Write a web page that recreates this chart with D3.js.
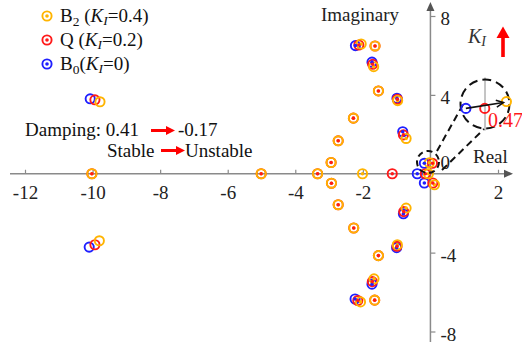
<!DOCTYPE html>
<html><head><meta charset="utf-8">
<script src="https://cdn.jsdelivr.net/npm/d3@7"></script>
<style>
html,body{margin:0;padding:0;background:#fff;}
svg{display:block;font-family:"Liberation Serif","Times New Roman",serif;}
</style></head>
<body>
<svg id="c" width="522" height="348"></svg>
<script>
// ---- data (real, imaginary) ----
const xTicks = [-12, -10, -8, -6, -4, -2, 2];
const yTicks = [-8, -4, 0, 4, 8];
const seriesNames = ["B0", "Q", "B2"];
const seriesK = ["0", "0.2", "0.4"];
const b0Poles = [[-2.22,6.5],[-2.23,-6.35],[-1.73,5.66],[-1.73,-5.6],[-0.99,3.83],[-1.0,-3.75],
  [-0.82,2.13],[-0.8,-2.03],[-0.18,0.53],[-0.18,-0.47],[-0.39,0]];
const qPoles = [[-10.02,0],[-5.01,0],[-3.34,0],[-2.94,0.57],[-2.93,-0.48],[-2.73,1.67],[-2.73,-1.57],
  [-2.28,2.82],[-2.27,-2.75],[-1.54,4.2],[-1.54,-4.15],[-1.64,6.48],[-1.65,-6.41],
  [-2.12,6.53],[-2.15,-6.43],[-1.71,5.55],[-1.72,-5.47],[-0.98,3.78],[-0.99,-3.68],
  [-0.8,1.97],[-0.79,-1.92],[0.06,0.53],[0.07,-0.47],[-0.15,0],[-1.13,0]];
const b2Poles = [[-10.02,0],[-5.01,0],[-3.34,0],[-2.94,0.57],[-2.93,-0.48],[-2.73,1.67],[-2.73,-1.57],
  [-2.28,2.82],[-2.27,-2.75],[-1.54,4.2],[-1.54,-4.15],[-1.64,6.48],[-1.65,-6.41],
  [-2.05,6.58],[-2.07,-6.5],[-1.68,5.43],[-1.67,-5.33],[-0.97,3.71],[-0.98,-3.6],
  [-0.72,1.79],[-0.72,-1.74],[-0.03,0.56],[0.12,-0.56],[-0.06,0],[-2.01,0]];
const b0Far = [[-10.07,3.8],[-10.1,-3.72]];
const qFar = [[-9.93,3.75],[-9.93,-3.6]];
const b2Far = [[-9.78,3.65],[-9.8,-3.4]];
// zoomed inset (local units)
const insetB0 = [[-0.78,-0.18]];
const insetQ = [[-0.01,-0.18]];
const insetB2 = [[0.875,0.1]];
const insetLabel = "0.47";
const dampFrom = "0.41", dampTo = "-0.17";

const colors = {B0:"#1f1fff", Q:"#ff1a1a", B2:"#ffb400"};
const axisGray = "#8a8a8a";

const svg = d3.select("#c");
const x = d3.scaleLinear().domain([-12, 2]).range([25, 498]);
const y = d3.scaleLinear().domain([-8, 8]).range([331.5, 16]);

// axes
const gx = svg.append("g").attr("transform", `translate(0,${y(0)})`)
  .call(d3.axisBottom(x).tickValues(xTicks).tickFormat(d => String(d)).tickSizeInner(-4).tickSizeOuter(0).tickPadding(12));
const gy = svg.append("g").attr("transform", `translate(${x(0)},0)`)
  .call(d3.axisRight(y).tickValues(yTicks).tickFormat(d => String(d)).tickSizeInner(5).tickSizeOuter(0).tickPadding(5));
[gx, gy].forEach(g => {
  g.select(".domain").remove();
  g.selectAll(".tick line").attr("stroke", axisGray).attr("stroke-width", 1.2);
  g.selectAll(".tick text").attr("fill", "#222").style("font-size", "19px").style("font-family", '"Liberation Serif",serif');
});
gy.selectAll(".tick").filter(d => d === 0).select("line").remove();
gy.selectAll(".tick").filter(d => d === 0).select("text").attr("dy", "-0.3em");
gy.selectAll(".tick").filter(d => d !== 0).select("text").attr("dy", "0.45em");

svg.append("line").attr("x1", 10).attr("x2", 506).attr("y1", y(0)).attr("y2", y(0))
  .attr("stroke", axisGray).attr("stroke-width", 1.5);
svg.append("path").attr("d", `M513,${y(0)} L504,${y(0)-4} L504,${y(0)+4} Z`).attr("fill", "#555");
svg.append("line").attr("x1", x(0)).attr("x2", x(0)).attr("y1", 342).attr("y2", 10)
  .attr("stroke", axisGray).attr("stroke-width", 1.5);
svg.append("path").attr("d", `M${x(0)},2 L${x(0)-4},11 L${x(0)+4},11 Z`).attr("fill", "#555");

svg.append("text").attr("x", 321).attr("y", 21).attr("fill", "#222").style("font-size", "19px").text("Imaginary");
svg.append("text").attr("x", 473).attr("y", 163).attr("fill", "#222").style("font-size", "19px").text("Real");

// pole markers
const R = 4.6;
function rings(data, col, sx, sy) {
  svg.append("g").selectAll("circle").data(data).join("circle")
    .attr("cx", d => sx(d[0])).attr("cy", d => sy(d[1])).attr("r", R)
    .attr("fill", "none").attr("stroke", col).attr("stroke-width", 1.9);
}
function dots(data, col, sx, sy) {
  svg.append("g").selectAll("circle").data(data).join("circle")
    .attr("cx", d => sx(d[0])).attr("cy", d => sy(d[1])).attr("r", 1.8).attr("fill", col);
}
rings(b0Far, colors.B0, x, y); rings(qFar, colors.Q, x, y); rings(b2Far, colors.B2, x, y);
rings(b0Poles, colors.B0, x, y); rings(qPoles, colors.Q, x, y); rings(b2Poles, colors.B2, x, y);
dots(b0Poles, colors.B0, x, y); dots(b2Poles, colors.B2, x, y); dots(qPoles, colors.Q, x, y);

// zoom annotation
const icx = 485, icy = 104, ir = 24.5;
const ix = d3.scaleLinear().domain([-1, 1]).range([icx - ir, icx + ir]);
const iy = d3.scaleLinear().domain([-1, 1]).range([icy + ir, icy - ir]);
const dash = "7,4.5";
svg.append("line").attr("x1", icx).attr("x2", icx).attr("y1", icy - ir - 2).attr("y2", icy + ir + 2)
  .attr("stroke", axisGray).attr("stroke-width", 1);
svg.append("circle").attr("cx", icx).attr("cy", icy).attr("r", ir).attr("fill", "none")
  .attr("stroke", "#111").attr("stroke-width", 2).attr("stroke-dasharray", "9,5");
svg.append("circle").attr("cx", 428).attr("cy", 162).attr("r", 11).attr("fill", "none")
  .attr("stroke", "#111").attr("stroke-width", 2).attr("stroke-dasharray", "6,4");
svg.append("line").attr("x1", 437).attr("y1", 151).attr("x2", 465).attr("y2", 101)
  .attr("stroke", "#111").attr("stroke-width", 2).attr("stroke-dasharray", dash);
svg.append("line").attr("x1", 442).attr("y1", 170).attr("x2", 484).attr("y2", 129)
  .attr("stroke", "#111").attr("stroke-width", 2).attr("stroke-dasharray", dash);
rings(insetB0, colors.B0, ix, iy); rings(insetQ, colors.Q, ix, iy); rings(insetB2, colors.B2, ix, iy);
// arrow blue -> orange
const a0 = [ix(insetB0[0][0]), iy(insetB0[0][1])], a1 = [ix(insetB2[0][0]) - 3, iy(insetB2[0][1]) + 1];
svg.append("line").attr("x1", a0[0]).attr("y1", a0[1]).attr("x2", a1[0]).attr("y2", a1[1])
  .attr("stroke", "#111").attr("stroke-width", 1.6);
{
  const ang = Math.atan2(a1[1] - a0[1], a1[0] - a0[0]);
  const L = 8, w = 0.45;
  const p1 = [a1[0] - L * Math.cos(ang - w), a1[1] - L * Math.sin(ang - w)];
  const p2 = [a1[0] - L * Math.cos(ang + w), a1[1] - L * Math.sin(ang + w)];
  svg.append("path").attr("d", `M${p1} L${a1} L${p2}`).attr("fill", "none").attr("stroke", "#111").attr("stroke-width", 1.6);
}
svg.append("text").attr("x", 488).attr("y", 127).attr("fill", "#ff1a1a").style("font-size", "20px").text(insetLabel);

// K_I arrow
const kt = svg.append("text").attr("x", 468).attr("y", 43).attr("fill", "#333").style("font-size", "20px");
kt.append("tspan").style("font-style", "italic").text("K");
kt.append("tspan").style("font-style", "italic").style("font-size", "14px").attr("dy", 3).text("I");
svg.append("rect").attr("x", 501.2).attr("y", 37).attr("width", 3.6).attr("height", 20).attr("fill", "#ff0000");
svg.append("path").attr("d", "M496.5,38 L509.5,38 L503,26.5 Z").attr("fill", "#ff0000");

// red arrows + damping text
function redArrow(x1, x2, yy) {
  svg.append("line").attr("x1", x1).attr("x2", x2 - 7).attr("y1", yy).attr("y2", yy).attr("stroke", "#ff0000").attr("stroke-width", 3);
  svg.append("path").attr("d", `M${x2},${yy} L${x2 - 9},${yy - 4.5} L${x2 - 9},${yy + 4.5} Z`).attr("fill", "#ff0000");
}
svg.append("text").attr("x", 25).attr("y", 136).attr("fill", "#111").style("font-size", "19px").text("Damping: " + dampFrom);
redArrow(151, 175, 130.5);
svg.append("text").attr("x", 178).attr("y", 136).attr("fill", "#111").style("font-size", "19px").text(dampTo);
svg.append("text").attr("x", 107).attr("y", 157).attr("fill", "#111").style("font-size", "19px").text("Stable");
redArrow(161, 185, 150.5);
svg.append("text").attr("x", 185).attr("y", 157).attr("fill", "#111").style("font-size", "19px").text("Unstable");

// legend
const legend = [
  {key:"B2", base:"B", sub:"2", sp:" (", k:"0.4"},
  {key:"Q", base:"Q", sub:"", sp:" (", k:"0.2"},
  {key:"B0", base:"B", sub:"0", sp:"(", k:"0"}
];
legend.forEach((l, i) => {
  const ly = 16 + i * 24;
  svg.append("circle").attr("cx", 47).attr("cy", ly).attr("r", R).attr("fill", "none").attr("stroke", colors[l.key]).attr("stroke-width", 1.9);
  svg.append("circle").attr("cx", 47).attr("cy", ly).attr("r", 1.8).attr("fill", colors[l.key]);
  const t = svg.append("text").attr("x", 60).attr("y", ly + 6).attr("fill", "#111").style("font-size", "19px");
  t.append("tspan").text(l.base);
  if (l.sub) t.append("tspan").style("font-size", "13.5px").attr("dy", 4).text(l.sub);
  t.append("tspan").attr("dy", l.sub ? -4 : 0).text(l.sp);
  t.append("tspan").style("font-style", "italic").text("K");
  t.append("tspan").style("font-style", "italic").style("font-size", "13.5px").attr("dy", 3).text("I");
  t.append("tspan").attr("dy", -3).text("=" + l.k + ")");
});
</script>
</body></html>
